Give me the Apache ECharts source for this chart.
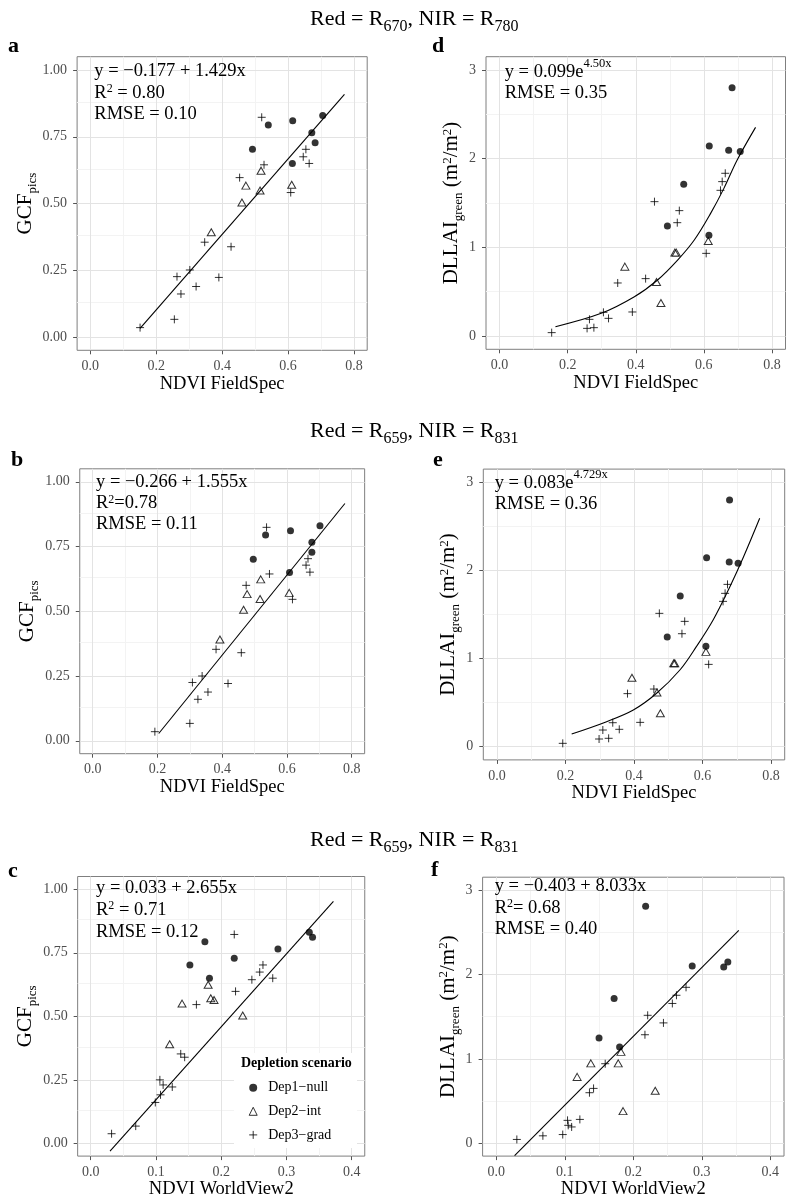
<!DOCTYPE html>
<html><head><meta charset="utf-8">
<script src="https://cdn.jsdelivr.net/npm/echarts@6/dist/echarts.min.js"></script>
<style>html,body{margin:0;padding:0;background:#fff}#c{width:786px;height:1200px}</style>
</head><body><div id="c"></div>
<script>
// ---------- tick values ----------
const xTicksFS = [0, 0.2, 0.4, 0.6, 0.8];
const xMinorFS = [0.1, 0.3, 0.5, 0.7];
const xTicksWV = [0, 0.1, 0.2, 0.3, 0.4];
const xMinorWV = [0.05, 0.15, 0.25, 0.35];
const yTicksGCF = [0, 0.25, 0.5, 0.75, 1];
const yMinorGCF = [0.125, 0.375, 0.625, 0.875];
const yTicksLAI = [0, 1, 2, 3];
const yMinorLAI = [0.5, 1.5, 2.5];
const scenarios = ['Dep1\u2212null', 'Dep2\u2212int', 'Dep3\u2212grad'];

// ---------- panel a: GCF vs NDVI FieldSpec (R670/R780) ----------
const aNull = [[0.492,0.703],[0.540,0.794],[0.614,0.810],[0.613,0.650],[0.672,0.765],[0.682,0.728],[0.705,0.830]];
const aInt  = [[0.367,0.392],[0.460,0.504],[0.472,0.567],[0.515,0.549],[0.518,0.623],[0.611,0.570]];
const aGrad = [[0.151,0.035],[0.255,0.066],[0.263,0.226],[0.275,0.161],[0.302,0.251],[0.321,0.189],[0.347,0.355],[0.390,0.223],[0.427,0.338],[0.453,0.597],[0.520,0.823],[0.527,0.645],[0.608,0.541],[0.646,0.675],[0.654,0.703],[0.664,0.650]];
const aFit  = [[0.151,0.032],[0.771,0.909]];

// ---------- panel d: DLLAI vs NDVI FieldSpec (R670/R780) ----------
const dNull = [[0.493,1.241],[0.541,1.711],[0.616,2.143],[0.615,1.137],[0.673,2.094],[0.683,2.801],[0.707,2.080]];
const dInt  = [[0.368,0.782],[0.461,0.609],[0.474,0.372],[0.515,0.940],[0.519,0.940],[0.613,1.071]];
const dGrad = [[0.153,0.038],[0.257,0.086],[0.264,0.188],[0.277,0.094],[0.305,0.267],[0.320,0.199],[0.347,0.598],[0.390,0.271],[0.429,0.647],[0.455,1.515],[0.522,1.278],[0.528,1.414],[0.607,0.932],[0.649,1.643],[0.654,1.741],[0.663,1.835]];
const dFit  = [[0.164,0.105],[0.2985,0.256],[0.396,0.443],[0.464,0.632],[0.523,0.857],[0.572,1.083],[0.620,1.383],[0.659,1.665],[0.698,1.985],[0.752,2.353]];

// ---------- panel b: GCF vs NDVI FieldSpec (R659/R831) ----------
const bNull = [[0.496,0.701],[0.534,0.794],[0.611,0.811],[0.608,0.650],[0.677,0.766],[0.677,0.728],[0.702,0.830]];
const bInt  = [[0.393,0.391],[0.466,0.506],[0.477,0.566],[0.517,0.547],[0.519,0.623],[0.607,0.571]];
const bGrad = [[0.192,0.035],[0.300,0.067],[0.308,0.225],[0.325,0.160],[0.338,0.250],[0.356,0.188],[0.381,0.353],[0.418,0.221],[0.459,0.340],[0.474,0.600],[0.537,0.824],[0.546,0.644],[0.617,0.546],[0.659,0.678],[0.665,0.703],[0.671,0.651]];
const bFit  = [[0.204,0.028],[0.779,0.916]];

// ---------- panel e: DLLAI vs NDVI FieldSpec (R659/R831) ----------
const eNull = [[0.497,1.246],[0.535,1.710],[0.612,2.145],[0.610,1.141],[0.679,2.800],[0.678,2.097],[0.704,2.081]];
const eInt  = [[0.394,0.783],[0.467,0.615],[0.477,0.379],[0.516,0.946],[0.519,0.946],[0.610,1.076]];
const eGrad = [[0.192,0.038],[0.298,0.087],[0.309,0.189],[0.326,0.095],[0.338,0.272],[0.357,0.197],[0.381,0.602],[0.418,0.276],[0.458,0.654],[0.474,1.513],[0.540,1.282],[0.548,1.422],[0.618,0.934],[0.660,1.649],[0.666,1.740],[0.673,1.842]];
const eFit  = [[0.218,0.144],[0.320,0.284],[0.398,0.416],[0.466,0.606],[0.534,0.870],[0.582,1.135],[0.631,1.438],[0.680,1.816],[0.718,2.138],[0.767,2.592]];

// ---------- panel c: GCF vs NDVI WorldView2 ----------
const cNull = [[0.152,0.702],[0.175,0.793],[0.182,0.650],[0.220,0.728],[0.287,0.765],[0.335,0.831],[0.340,0.811]];
const cInt  = [[0.121,0.390],[0.140,0.550],[0.180,0.624],[0.184,0.571],[0.189,0.564],[0.233,0.503]];
const cGrad = [[0.032,0.038],[0.069,0.068],[0.099,0.161],[0.106,0.250],[0.111,0.230],[0.107,0.191],[0.125,0.222],[0.138,0.352],[0.144,0.339],[0.162,0.546],[0.220,0.822],[0.222,0.598],[0.247,0.644],[0.259,0.674],[0.264,0.702],[0.279,0.650]];
const cFit  = [[0.0296,-0.030],[0.372,0.952]];

// ---------- panel f: DLLAI vs NDVI WorldView2 ----------
const fNull = [[0.150,1.247],[0.172,1.714],[0.180,1.142],[0.218,2.805],[0.286,2.100],[0.332,2.088],[0.338,2.147]];
const fInt  = [[0.118,0.787],[0.138,0.947],[0.178,0.947],[0.182,1.083],[0.185,0.382],[0.232,0.623]];
const fGrad = [[0.030,0.047],[0.068,0.090],[0.097,0.105],[0.104,0.273],[0.105,0.214],[0.110,0.195],[0.122,0.284],[0.136,0.600],[0.142,0.651],[0.159,0.943],[0.217,1.286],[0.221,1.516],[0.244,1.426],[0.257,1.656],[0.263,1.753],[0.277,1.847]];
const fFit  = [[0.0267,-0.144],[0.354,2.521]];

// ---------- styling / layout ----------
const SERIF = '"Liberation Serif","Times New Roman",serif';
const TICKCOL = '#4d4d4d';

const XR = {
  fs: {min: -0.04, max: 0.84, ticks: xTicksFS, minor: xMinorFS, fmt: v => v.toFixed(1)},
  wv: {min: -0.02, max: 0.42, ticks: xTicksWV, minor: xMinorWV, fmt: v => v.toFixed(1)}
};
const YR = {
  gcf: {min: -0.05, max: 1.05, ticks: yTicksGCF, minor: yMinorGCF, fmt: v => v.toFixed(2),
        name: 'GCF{sub|pics}'},
  lai: {min: -0.15, max: 3.15, ticks: yTicksLAI, minor: yMinorLAI, fmt: v => String(Math.round(v)),
        name: 'DLLAI{sub|green} (m{sup|2}/m{sup|2})'}
};

const panels = [
  {box: [77.1, 56.7, 290.1, 293.6], xr: 'fs', yr: 'gcf', xName: 'NDVI FieldSpec', xGap: 21, yGap: 36.7, pts: [aNull, aInt, aGrad], fit: aFit, smooth: false},
  {box: [486, 56.7, 299.5, 292.6], xr: 'fs', yr: 'lai', xName: 'NDVI FieldSpec', xGap: 22, yGap: 19.7, pts: [dNull, dInt, dGrad], fit: dFit, smooth: 0.35},
  {box: [79.75, 468.8, 284.9, 284.9], xr: 'fs', yr: 'gcf', xName: 'NDVI FieldSpec', xGap: 23.5, yGap: 37.6, pts: [bNull, bInt, bGrad], fit: bFit, smooth: false},
  {box: [483.3, 469.1, 301.4, 290.8], xr: 'fs', yr: 'lai', xName: 'NDVI FieldSpec', xGap: 24, yGap: 20.4, pts: [eNull, eInt, eGrad], fit: eFit, smooth: 0.35},
  {box: [77.65, 876.5, 287.1, 282], xr: 'wv', yr: 'gcf', xName: 'NDVI WorldView2', xGap: 21, yGap: 35.5, pts: [cNull, cInt, cGrad], fit: cFit, smooth: false},
  {box: [482.6, 877.2, 301.4, 282.3], xr: 'wv', yr: 'lai', xName: 'NDVI WorldView2', xGap: 19, yGap: 19.7, pts: [fNull, fInt, fGrad], fit: fFit, smooth: false}
];

const symbolDefs = [
  {symbol: 'circle', size: 7, itemStyle: {color: '#000', borderWidth: 0}},
  {symbol: 'triangle', size: [8, 7], itemStyle: {color: 'rgba(0,0,0,0)', borderColor: '#000', borderWidth: 1}},
  {symbol: 'path://M0,5L10,5M5,0L5,10', size: 8, itemStyle: {color: 'rgba(0,0,0,0)', borderColor: '#000', borderWidth: 1}}
];

const grids = [], xAxes = [], yAxes = [], series = [];
panels.forEach((p, i) => {
  const xr = XR[p.xr], yr = YR[p.yr];
  grids.push({left: p.box[0], top: p.box[1], width: p.box[2], height: p.box[3],
    show: true, borderColor: '#7f7f7f', borderWidth: 1, backgroundColor: 'rgba(0,0,0,0)', containLabel: false});
  xAxes.push({
    gridIndex: i, type: 'value', min: xr.min, max: xr.max,
    axisLine: {show: false, onZero: false},
    axisTick: {show: true, length: 4, customValues: xr.ticks, lineStyle: {color: '#555'}},
    axisLabel: {customValues: xr.ticks, formatter: xr.fmt, margin: 9, color: TICKCOL, fontSize: 14, fontFamily: SERIF},
    splitLine: {show: false},
    name: p.xName, nameLocation: 'middle', nameGap: p.xGap,
    nameTextStyle: {fontSize: 18.5, fontFamily: SERIF, color: '#000'}
  });
  yAxes.push({
    gridIndex: i, type: 'value', min: yr.min, max: yr.max,
    axisLine: {show: false, onZero: false},
    axisTick: {show: true, length: 4, customValues: yr.ticks, lineStyle: {color: '#555'}},
    axisLabel: {customValues: yr.ticks, formatter: yr.fmt, margin: 10, color: TICKCOL, fontSize: 14, fontFamily: SERIF},
    splitLine: {show: false},
    name: yr.name, nameLocation: 'middle', nameGap: p.yGap,
    nameTextStyle: {fontSize: 21, fontFamily: SERIF, color: '#000',
      rich: {
        sub: {fontSize: 13, fontFamily: SERIF, color: '#000', padding: [14, 0, 0, 0]},
        sup: {fontSize: 13, fontFamily: SERIF, color: '#000', padding: [0, 0, 9, 0]}
      }}
  });
  // grid lines (major + minor) drawn from the tick arrays through the axes
  const ml = (vals, key, color) => vals.map(v => ({[key]: v, lineStyle: {color, width: 1, type: 'solid'}}));
  series.push({
    type: 'line', xAxisIndex: i, yAxisIndex: i, data: [], silent: true,
    markLine: {
      silent: true, z: 1, symbol: ['none', 'none'], label: {show: false}, animation: false,
      emphasis: {disabled: true},
      data: [].concat(ml(xr.minor, 'xAxis', '#f3f3f3'), ml(yr.minor, 'yAxis', '#f3f3f3'),
                      ml(xr.ticks, 'xAxis', '#e3e3e3'), ml(yr.ticks, 'yAxis', '#e3e3e3'))
    }
  });
  p.pts.forEach((arr, k) => {
    const s = symbolDefs[k];
    series.push({
      type: 'scatter', name: scenarios[k], xAxisIndex: i, yAxisIndex: i,
      data: arr, symbol: s.symbol, symbolSize: s.size, itemStyle: s.itemStyle,
      emphasis: {disabled: true}, z: 3
    });
  });
  series.push({
    type: 'line', xAxisIndex: i, yAxisIndex: i, data: p.fit, showSymbol: false, symbol: 'none',
    smooth: p.smooth, lineStyle: {color: '#000', width: 1.1}, silent: true, z: 2
  });
});

// ---------- texts ----------
function txt(x, baseline, text, fs, weight, rich) {
  return {type: 'text', x: x, y: baseline - 0.305 * fs, z: 50,
    style: {text: text, fontSize: fs, fontFamily: SERIF, fontWeight: weight || 'normal', fill: '#000',
      align: 'left', verticalAlign: 'middle', rich: rich || {}}};
}
const headRich = {sub: {fontSize: 16, fontFamily: SERIF, fill: '#000', padding: [15, 0, 0, 0]}};
const annRich = {
  sq: {fontSize: 12, fontFamily: SERIF, fill: '#000', padding: [0, 0, 8, 0]},
  ex: {fontSize: 12.5, fontFamily: SERIF, fill: '#000', padding: [0, 0, 16, 0]}
};
const AF = 18.5;
const graphics = [
  txt(310, 26, 'Red = R{sub|670}, NIR = R{sub|780}', 22, 'normal', headRich),
  txt(310, 438, 'Red = R{sub|659}, NIR = R{sub|831}', 22, 'normal', headRich),
  txt(310, 847, 'Red = R{sub|659}, NIR = R{sub|831}', 22, 'normal', headRich),
  txt(8, 53, 'a', 22, 'bold'), txt(432, 53, 'd', 22, 'bold'),
  txt(11, 466.7, 'b', 22, 'bold'), txt(433, 466.7, 'e', 22, 'bold'),
  txt(8, 878.3, 'c', 22, 'bold'), txt(431, 876.7, 'f', 22, 'bold'),
  // panel a
  txt(94.3, 76.5, 'y = \u22120.177 + 1.429x', AF, 'normal', annRich),
  txt(94.3, 98.5, 'R{sq|2} = 0.80', AF, 'normal', annRich),
  txt(94.3, 120, 'RMSE = 0.10', AF, 'normal', annRich),
  // panel d
  txt(504.7, 77.5, 'y = 0.099e{ex|4.50x}', AF, 'normal', annRich),
  txt(504.7, 98.5, 'RMSE = 0.35', AF, 'normal', annRich),
  // panel b
  txt(96, 487.3, 'y = \u22120.266 + 1.555x', AF, 'normal', annRich),
  txt(96, 509, 'R{sq|2}=0.78', AF, 'normal', annRich),
  txt(96, 530, 'RMSE = 0.11', AF, 'normal', annRich),
  // panel e
  txt(494.7, 488.3, 'y = 0.083e{ex|4.729x}', AF, 'normal', annRich),
  txt(494.7, 510, 'RMSE = 0.36', AF, 'normal', annRich),
  // panel c
  txt(96, 894, 'y = 0.033 + 2.655x', AF, 'normal', annRich),
  txt(96, 915.7, 'R{sq|2} = 0.71', AF, 'normal', annRich),
  txt(96, 937.3, 'RMSE = 0.12', AF, 'normal', annRich),
  // panel f
  txt(494.7, 891.7, 'y = \u22120.403 + 8.033x', AF, 'normal', annRich),
  txt(494.7, 913.3, 'R{sq|2}= 0.68', AF, 'normal', annRich),
  txt(494.7, 935, 'RMSE = 0.40', AF, 'normal', annRich),
  // legend box + title
  {type: 'rect', z: 10, shape: {x: 234, y: 1053, width: 123, height: 95}, style: {fill: '#fff'}},
  txt(241, 1068, 'Depletion scenario', 14, 'bold')
];

const option = {
  animation: false,
  backgroundColor: '#fff',
  textStyle: {fontFamily: SERIF},
  grid: grids, xAxis: xAxes, yAxis: yAxes, series: series,
  legend: {
    data: scenarios, orient: 'vertical', left: 248.7, top: 1080.7, padding: 0,
    itemWidth: 8, itemHeight: 8, itemGap: 9.6, selectedMode: false, z: 20,
    itemStyle: {borderWidth: 1},
    textStyle: {fontSize: 14, fontFamily: SERIF, color: '#000', padding: [0, 0, 0, 6]}
  },
  graphic: graphics
};
const chart = echarts.init(document.getElementById('c'), null, {renderer: 'canvas'});
chart.setOption(option);
</script>
</body></html>
